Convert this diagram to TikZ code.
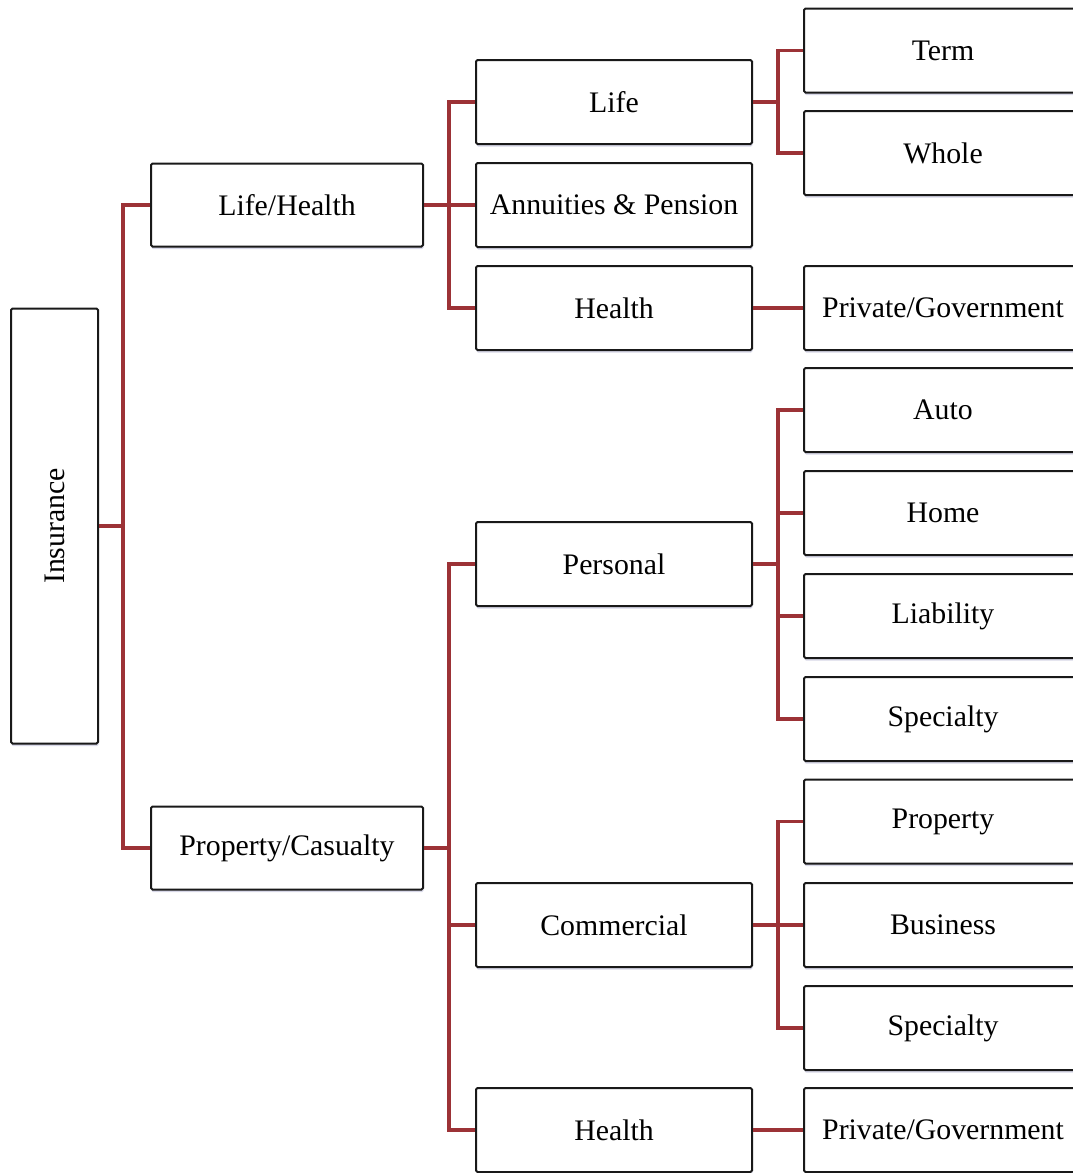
\documentclass[tikz,border=0pt]{standalone}
\usepackage{fontspec}
\setmainfont{Liberation Serif}
\usetikzlibrary{shadows}
\definecolor{conn}{RGB}{156,50,54}
\begin{document}
\begin{tikzpicture}[x=1pt,y=-1pt,
  box/.style={draw=black!90, line width=2pt, fill=white, rounded corners=1.5pt,
    inner sep=0pt, font=\fontsize{29.8}{34}\selectfont,
    drop shadow={shadow xshift=0.5pt, shadow yshift=-2.5pt, fill=blue!25!gray, opacity=0.25}},
  lvA/.style={box, minimum width=272pt, minimum height=83pt},
  lvB/.style={box, minimum width=276pt, minimum height=84pt},
  lvC/.style={box, minimum width=278pt, minimum height=84pt},
  conn/.style={draw=conn, line width=3.5pt, line join=miter}]
\useasboundingbox (0,0) rectangle (1073,1173);
\clip (0,0) rectangle (1073,1173);
% junctions
\coordinate (j1) at (123,526);
\coordinate (j2) at (449,205);
\coordinate (j3) at (449,848);
\coordinate (j4) at (778,102);
\coordinate (j5) at (778,564);
\coordinate (j6) at (778,925);
% nodes
\node[box, minimum width=87pt, minimum height=435pt] (ins) at (54.5,526) {};
\node[rotate=90, font=\fontsize{29.8}{34}\selectfont] (instext) at (ins.center) {Insurance};
\node[lvA] (lh) at (287,205) {Life/Health};
\node[lvA] (pc) at (287,848) {Property/Casualty};
\node[lvB] (life) at (614,102) {Life};
\node[lvB] (ann) at (614,205) {Annuities \& Pension};
\node[lvB] (hl1) at (614,308) {Health};
\node[lvB] (pers) at (614,564) {Personal};
\node[lvB] (comm) at (614,925) {Commercial};
\node[lvB] (hl2) at (614,1130) {Health};
\node[lvC] (term) at (943,50.5) {Term};
\node[lvC] (whole) at (943,153) {Whole};
\node[lvC] (pg1) at (943,308) {Private/Government};
\node[lvC] (auto) at (943,410) {Auto};
\node[lvC] (home) at (943,513) {Home};
\node[lvC] (liab) at (943,616) {Liability};
\node[lvC] (spec1) at (943,719) {Specialty};
\node[lvC] (prop) at (943,821.5) {Property};
\node[lvC] (bus) at (943,925) {Business};
\node[lvC] (spec2) at (943,1028) {Specialty};
\node[lvC] (pg2) at (943,1130) {Private/Government};
% connectors
\draw[conn] (ins.east) -- (j1);
\draw[conn] (lh.west) -| (j1) |- (pc.west);
\draw[conn] (lh.east) -- (j2);
\draw[conn] (life.west) -| (j2) |- (hl1.west);
\draw[conn] (ann.west) -- (j2);
\draw[conn] (pc.east) -- (j3);
\draw[conn] (pers.west) -| (j3) |- (hl2.west);
\draw[conn] (comm.west) -- (comm.west -| j3);
\draw[conn] (life.east) -- (j4);
\draw[conn] (term.west) -| (j4) |- (whole.west);
\draw[conn] (hl1.east) -- (pg1.west);
\draw[conn] (pers.east) -- (j5);
\draw[conn] (auto.west) -| (j5) |- (spec1.west);
\draw[conn] (home.west) -- (home.west -| j5);
\draw[conn] (liab.west) -- (liab.west -| j5);
\draw[conn] (comm.east) -- (j6);
\draw[conn] (prop.west) -| (j6) |- (spec2.west);
\draw[conn] (bus.west) -- (j6);
\draw[conn] (hl2.east) -- (pg2.west);
\end{tikzpicture}
\end{document}
